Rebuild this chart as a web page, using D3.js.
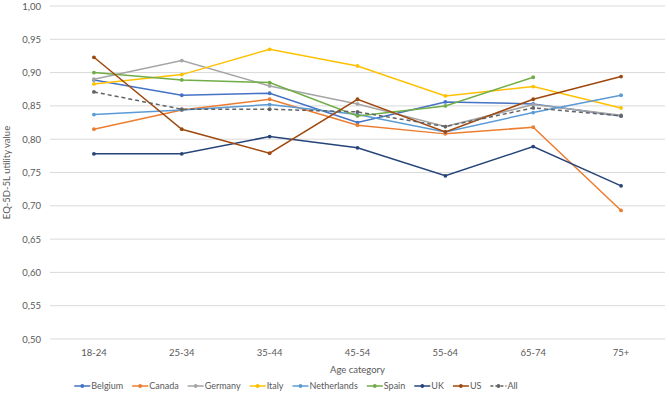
<!DOCTYPE html>
<html>
<head>
<meta charset="utf-8">
<script src="https://cdn.jsdelivr.net/npm/d3@7"></script>
<style>
  body { margin: 0; background: #fff; }
  text { font-family: Lato, "Open Sans", sans-serif; fill: #595959; }
</style>
</head>
<body>
<svg id="chart" width="669" height="393"></svg>
<script>
let categories = ["18-24", "25-34", "35-44", "45-54", "55-64", "65-74", "75+"];
let yTicks = [0.50, 0.55, 0.60, 0.65, 0.70, 0.75, 0.80, 0.85, 0.90, 0.95, 1.00];

let belgium     = [0.889, 0.866, 0.869, 0.825, 0.856, 0.853, 0.835];
let canada      = [0.815, 0.844, 0.860, 0.821, 0.808, 0.818, 0.693];
let germany     = [0.890, 0.918, 0.880, 0.853, 0.819, 0.852, 0.836];
let italy       = [0.883, 0.897, 0.935, 0.910, 0.865, 0.879, 0.847];
let netherlands = [0.837, 0.844, 0.852, 0.837, 0.811, 0.840, 0.866];
let spain       = [0.900, 0.889, 0.885, 0.835, 0.850, 0.893, null];
let uk          = [0.778, 0.778, 0.804, 0.787, 0.745, 0.789, 0.730];
let us          = [0.923, 0.815, 0.779, 0.860, 0.811, 0.860, 0.894];
let all         = [0.871, 0.845, 0.845, 0.841, 0.819, 0.847, 0.835];

let series = [
  {name: "Belgium", values: belgium, color: "#4472C4"},
  {name: "Canada", values: canada, color: "#ED7D31"},
  {name: "Germany", values: germany, color: "#A5A5A5"},
  {name: "Italy", values: italy, color: "#FFC000"},
  {name: "Netherlands", values: netherlands, color: "#5B9BD5"},
  {name: "Spain", values: spain, color: "#70AD47"},
  {name: "UK", values: uk, color: "#264478"},
  {name: "US", values: us, color: "#9E480E"},
  {name: "All", values: all, color: "#636363", dash: "4,3"}
];

let svg = d3.select("#chart");
let plot_left = 50, plot_right = 665, plot_top = 6, plot_bottom = 339;

let x = d3.scaleBand().domain(categories).range([plot_left, plot_right]);
let y = d3.scaleLinear().domain([0.5, 1.0]).range([plot_bottom, plot_top]);
let fmt = v => d3.format(".2f")(v).replace(".", ",");

// grid
svg.append("g").selectAll("line").data(yTicks).enter().append("line")
  .attr("x1", plot_left).attr("x2", plot_right)
  .attr("y1", d => y(d)).attr("y2", d => y(d))
  .attr("stroke", "#d9d9d9").attr("stroke-width", 1);

svg.append("g").selectAll("text").data(yTicks).enter().append("text")
  .attr("x", 41).attr("y", d => y(d) + 3.5)
  .attr("text-anchor", "end").attr("font-size", 9.5)
  .text(fmt);

svg.append("g").selectAll("text").data(categories).enter().append("text")
  .attr("x", d => x(d) + x.bandwidth() / 2).attr("y", 356)
  .attr("text-anchor", "middle").attr("font-size", 9.5)
  .text(d => d);

svg.append("text").attr("x", (plot_left + plot_right) / 2).attr("y", 373)
  .attr("text-anchor", "middle").attr("font-size", 9.5).text("Age category");

svg.append("text").attr("transform", "translate(10," + ((plot_top + plot_bottom) / 2) + ") rotate(-90)")
  .attr("text-anchor", "middle").attr("font-size", 9.5).text("EQ-5D-5L utility value");

let line = d3.line()
  .defined(d => d != null)
  .x((d, i) => x(categories[i]) + x.bandwidth() / 2)
  .y(d => y(d));

let lines = svg.append("g").selectAll("g").data(series).enter().append("g");
lines.append("path")
  .attr("d", d => line(d.values))
  .attr("fill", "none").attr("stroke", d => d.color)
  .attr("stroke-width", 1.5)
  .attr("stroke-dasharray", d => d.dash || null);
lines.each(function(s){
  d3.select(this).selectAll("circle").data(s.values.map((v, i) => [v, i]).filter(d => d[0] != null))
    .enter().append("circle")
    .attr("cx", d => x(categories[d[1]]) + x.bandwidth() / 2)
    .attr("cy", d => y(d[0]))
    .attr("r", 1.9).attr("fill", s.color);
});

// legend, flowed left to right and centred
let legend_line = 16, legend_gap = 9;
let legend = svg.append("g");
let items = legend.selectAll("g").data(series).enter().append("g");
items.append("line").attr("x1", 0).attr("x2", legend_line).attr("y1", 0).attr("y2", 0)
  .attr("stroke", d => d.color).attr("stroke-width", 1.5)
  .attr("stroke-dasharray", d => d.dash ? "3,2" : null);
items.append("circle").attr("cx", legend_line / 2).attr("cy", 0).attr("r", 1.9).attr("fill", d => d.color);
items.append("text").attr("x", legend_line + 1).attr("y", 3.2).attr("font-size", 9).text(d => d.name);

let pos = 0;
let offsets = [];
items.each(function(){
  offsets.push(pos);
  let w = d3.select(this).select("text").node().getComputedTextLength();
  pos += legend_line + 1 + w + legend_gap;
});
let total = pos - legend_gap;
let start = 296 - total / 2;
items.attr("transform", (d, i) => "translate(" + (start + offsets[i]) + ",386)");
</script>
</body>
</html>
